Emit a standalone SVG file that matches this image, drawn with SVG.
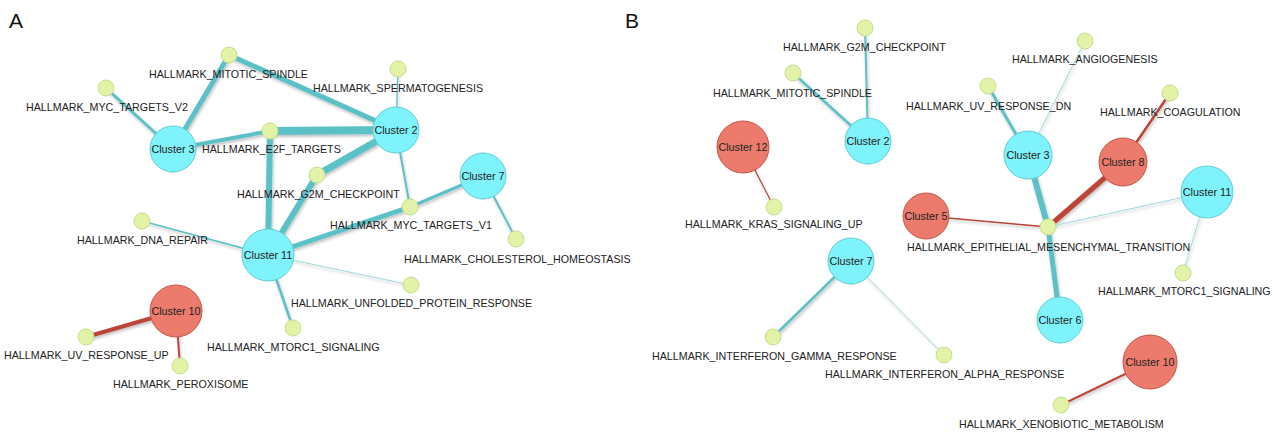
<svg xmlns="http://www.w3.org/2000/svg" width="1276" height="433" viewBox="0 0 1276 433">
<defs>
<filter id="sh" x="-20%" y="-20%" width="140%" height="140%">
<feDropShadow dx="1" dy="2" stdDeviation="1.5" flood-color="#000" flood-opacity="0.25"/>
</filter>
</defs>
<style>
text{font-family:"Liberation Sans",Arial,sans-serif;font-size:10.7px;fill:#222}
.panel{font-size:21px;fill:#111}
.cl{text-anchor:middle;dominant-baseline:central;font-size:10.8px}
.t{fill:#7ff3fb;stroke:#62cdd4;stroke-width:1}
.r{fill:#ec7b6d;stroke:#c4574a;stroke-width:1}
.g{fill:#e2f3a8;stroke:#c9dd90;stroke-width:1}
.et{stroke:#5cc0c7;stroke-linecap:round;fill:none}
.er{stroke:#bb4539;stroke-linecap:round;fill:none}
.lt{stroke:#9fd8dc}
</style>
<rect width="1276" height="433" fill="#fff"/>
<text class="panel" x="9" y="28">A</text>
<text class="panel" x="625" y="28">B</text>
<g id="edges" filter="url(#sh)">
<!-- Panel A -->
<line class="et" x1="173" y1="149" x2="229" y2="55" stroke-width="5"/>
<line class="et" x1="173" y1="149" x2="106" y2="88" stroke-width="3"/>
<line class="et" x1="173" y1="149" x2="270" y2="131" stroke-width="4"/>
<line class="et" x1="229" y1="55" x2="396" y2="130" stroke-width="5"/>
<line class="et" x1="270" y1="131" x2="396" y2="130" stroke-width="8"/>
<line class="et" x1="270" y1="131" x2="268" y2="255" stroke-width="6"/>
<line class="et" x1="317" y1="175" x2="396" y2="130" stroke-width="7"/>
<line class="et" x1="317" y1="175" x2="268" y2="255" stroke-width="6"/>
<line class="et" x1="396" y1="130" x2="398" y2="69" stroke-width="1.3"/>
<line class="et" x1="396" y1="130" x2="410" y2="207" stroke-width="2"/>
<line class="et" x1="483" y1="176" x2="410" y2="207" stroke-width="3"/>
<line class="et" x1="268" y1="255" x2="410" y2="207" stroke-width="5"/>
<line class="et" x1="483" y1="176" x2="516" y2="239" stroke-width="2"/>
<line class="et" x1="268" y1="255" x2="142" y2="221" stroke-width="1.5"/>
<line class="et lt" x1="268" y1="255" x2="411" y2="285" stroke-width="1"/>
<line class="et" x1="268" y1="255" x2="293" y2="328" stroke-width="2.5"/>
<line class="er" x1="176" y1="311" x2="86" y2="337" stroke-width="4"/>
<line class="er" x1="176" y1="311" x2="180" y2="366" stroke-width="2"/>
<!-- Panel B -->
<line class="et" x1="868" y1="141" x2="865" y2="28" stroke-width="2"/>
<line class="et" x1="868" y1="141" x2="793" y2="73" stroke-width="2.5"/>
<line class="er" x1="743" y1="147" x2="774" y2="207" stroke-width="1.2"/>
<line class="et" x1="1028" y1="155" x2="988" y2="86" stroke-width="3"/>
<line class="et lt" x1="1028" y1="155" x2="1085" y2="41" stroke-width="1"/>
<line class="er" x1="1123" y1="162" x2="1170" y2="93" stroke-width="2.5"/>
<line class="et" x1="1028" y1="155" x2="1048" y2="227" stroke-width="6"/>
<line class="er" x1="1123" y1="162" x2="1048" y2="227" stroke-width="5"/>
<line class="er" x1="926" y1="216" x2="1048" y2="227" stroke-width="1.5"/>
<line class="et lt" x1="1207" y1="192" x2="1048" y2="227" stroke-width="1"/>
<line class="et" x1="1060" y1="320" x2="1048" y2="227" stroke-width="5"/>
<line class="et lt" x1="1207" y1="192" x2="1183" y2="273" stroke-width="1"/>
<line class="et" x1="851" y1="261" x2="773" y2="337" stroke-width="2.5"/>
<line class="et lt" x1="851" y1="261" x2="944" y2="355" stroke-width="1"/>
<line class="er" x1="1150" y1="362" x2="1061" y2="405" stroke-width="2"/>
</g>
<!-- Panel A nodes -->
<g id="a-cluster3"><circle class="t" cx="173" cy="149" r="23"/><text class="cl" x="173" y="149">Cluster 3</text></g>
<g id="a-cluster2"><circle class="t" cx="396" cy="130" r="23"/><text class="cl" x="396" y="130">Cluster 2</text></g>
<g id="a-cluster7"><circle class="t" cx="483" cy="176" r="23"/><text class="cl" x="483" y="176">Cluster 7</text></g>
<g id="a-cluster11"><circle class="t" cx="268" cy="255" r="26"/><text class="cl" x="268" y="255">Cluster 11</text></g>
<g id="a-cluster10"><circle class="r" cx="176" cy="311" r="26"/><text class="cl" x="176" y="311">Cluster 10</text></g>
<g id="a-mitotic"><circle class="g" cx="229" cy="55" r="8"/><text x="149" y="78">HALLMARK_MITOTIC_SPINDLE</text></g>
<g id="a-mycv2"><circle class="g" cx="106" cy="88" r="8"/><text x="26" y="111">HALLMARK_MYC_TARGETS_V2</text></g>
<g id="a-e2f"><circle class="g" cx="270" cy="131" r="8"/><text x="202" y="153">HALLMARK_E2F_TARGETS</text></g>
<g id="a-sperm"><circle class="g" cx="398" cy="69" r="8"/><text x="313" y="92">HALLMARK_SPERMATOGENESIS</text></g>
<g id="a-g2m"><circle class="g" cx="317" cy="175" r="8"/><text x="237" y="198">HALLMARK_G2M_CHECKPOINT</text></g>
<g id="a-mycv1"><circle class="g" cx="410" cy="207" r="8"/><text x="330" y="229">HALLMARK_MYC_TARGETS_V1</text></g>
<g id="a-chol"><circle class="g" cx="516" cy="239" r="8"/><text x="404" y="263">HALLMARK_CHOLESTEROL_HOMEOSTASIS</text></g>
<g id="a-dna"><circle class="g" cx="142" cy="221" r="8"/><text x="77" y="244">HALLMARK_DNA_REPAIR</text></g>
<g id="a-upr"><circle class="g" cx="411" cy="285" r="8"/><text x="291" y="307">HALLMARK_UNFOLDED_PROTEIN_RESPONSE</text></g>
<g id="a-mtorc1"><circle class="g" cx="293" cy="328" r="8"/><text x="207" y="351">HALLMARK_MTORC1_SIGNALING</text></g>
<g id="a-uvup"><circle class="g" cx="86" cy="337" r="8"/><text x="4" y="359">HALLMARK_UV_RESPONSE_UP</text></g>
<g id="a-perox"><circle class="g" cx="180" cy="366" r="8"/><text x="113" y="388">HALLMARK_PEROXISOME</text></g>
<!-- Panel B nodes -->
<g id="b-cluster2"><circle class="t" cx="868" cy="141" r="23"/><text class="cl" x="868" y="141">Cluster 2</text></g>
<g id="b-cluster12"><circle class="r" cx="743" cy="147" r="26"/><text class="cl" x="743" y="147">Cluster 12</text></g>
<g id="b-cluster3"><circle class="t" cx="1028" cy="155" r="24"/><text class="cl" x="1028" y="155">Cluster 3</text></g>
<g id="b-cluster8"><circle class="r" cx="1123" cy="162" r="24"/><text class="cl" x="1123" y="162">Cluster 8</text></g>
<g id="b-cluster11"><circle class="t" cx="1207" cy="192" r="26"/><text class="cl" x="1207" y="192">Cluster 11</text></g>
<g id="b-cluster5"><circle class="r" cx="926" cy="216" r="23"/><text class="cl" x="926" y="216">Cluster 5</text></g>
<g id="b-cluster6"><circle class="t" cx="1060" cy="320" r="23"/><text class="cl" x="1060" y="320">Cluster 6</text></g>
<g id="b-cluster7"><circle class="t" cx="851" cy="261" r="23"/><text class="cl" x="851" y="261">Cluster 7</text></g>
<g id="b-cluster10"><circle class="r" cx="1150" cy="362" r="27"/><text class="cl" x="1150" y="362">Cluster 10</text></g>
<g id="b-g2m"><circle class="g" cx="865" cy="28" r="8"/><text x="783" y="51">HALLMARK_G2M_CHECKPOINT</text></g>
<g id="b-mitotic"><circle class="g" cx="793" cy="73" r="8"/><text x="713" y="97">HALLMARK_MITOTIC_SPINDLE</text></g>
<g id="b-kras"><circle class="g" cx="774" cy="207" r="8"/><text x="685" y="228">HALLMARK_KRAS_SIGNALING_UP</text></g>
<g id="b-angio"><circle class="g" cx="1085" cy="41" r="8"/><text x="1012" y="63">HALLMARK_ANGIOGENESIS</text></g>
<g id="b-uvdn"><circle class="g" cx="988" cy="86" r="8"/><text x="906" y="110">HALLMARK_UV_RESPONSE_DN</text></g>
<g id="b-coag"><circle class="g" cx="1170" cy="93" r="8"/><text x="1100" y="116">HALLMARK_COAGULATION</text></g>
<g id="b-emt"><circle class="g" cx="1048" cy="227" r="8"/><text x="907" y="251">HALLMARK_EPITHELIAL_MESENCHYMAL_TRANSITION</text></g>
<g id="b-mtorc1"><circle class="g" cx="1183" cy="273" r="8"/><text x="1098" y="295">HALLMARK_MTORC1_SIGNALING</text></g>
<g id="b-gamma"><circle class="g" cx="773" cy="337" r="8"/><text x="652" y="360">HALLMARK_INTERFERON_GAMMA_RESPONSE</text></g>
<g id="b-alpha"><circle class="g" cx="944" cy="355" r="8"/><text x="825" y="378">HALLMARK_INTERFERON_ALPHA_RESPONSE</text></g>
<g id="b-xeno"><circle class="g" cx="1061" cy="405" r="8"/><text x="959" y="428">HALLMARK_XENOBIOTIC_METABOLISM</text></g>
</svg>
